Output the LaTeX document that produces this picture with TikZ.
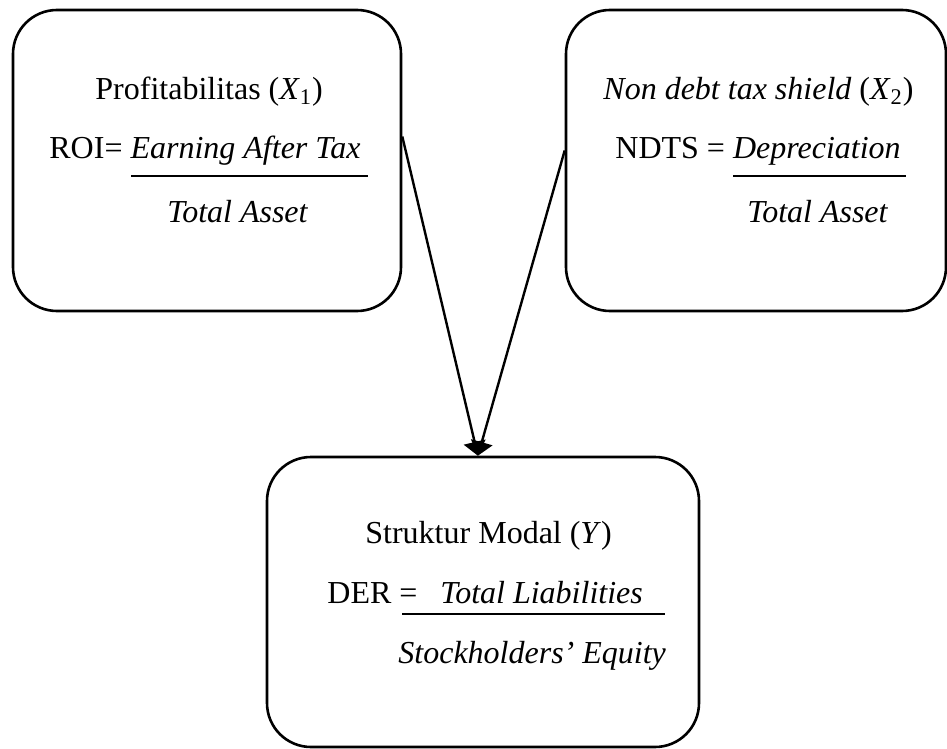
\documentclass[tikz,border=0pt]{standalone}
\usepackage{fontspec}
\setmainfont{Liberation Serif}
\usetikzlibrary{arrows.meta, positioning}

\begin{document}
\begin{tikzpicture}[x=0.5pt,y=-0.5pt,>={Triangle[length=7pt,width=11pt]},
        varbox/.style={draw,line width=1.3pt,rounded corners=22pt,inner sep=0pt},
        txt/.style={anchor=base west,inner sep=0pt,font=\fontsize{16}{19}\selectfont},
        fracline/.style={line width=0.7pt}]
    \useasboundingbox (0,0) rectangle (947,749);

    \node[varbox,minimum width=194pt,minimum height=150.5pt] (profit) at (207,160.5) {};
    \node[varbox,minimum width=190pt,minimum height=150.5pt] (ndts) at (756,160.5) {};
    \node[varbox,minimum width=216pt,minimum height=145pt] (modal) at (483,602) {};

    % Profitabilitas
    \node[txt] (profitTitle) at (95,99) {Profitabilitas (\textit{X}\textsubscript{1})};
    \node[txt] (roiNum) at (49,158) {ROI= \textit{Earning After Tax}};
    \node[txt] (roiDen) at (167,222) {\textit{Total Asset}};
    \draw[fracline] (131,176) -- (368,176);

    % Non debt tax shield
    \node[txt] (ndtsTitle) at (603,99) {\textit{Non debt tax shield} (\textit{X}\textsubscript{2})};
    \node[txt] (ndtsNum) at (615,158) {NDTS = \textit{Depreciation}};
    \node[txt] (ndtsDen) at (747,222) {\textit{Total Asset}};
    \draw[fracline] (733,176) -- (906,176);

    % Struktur Modal
    \node[txt] (modalTitle) at (365,543) {Struktur Modal (\textit{Y})};
    \node[txt] (derLabel) at (327,603) {DER =};
    \node[txt] (derNum) at (440,603) {\textit{Total Liabilities}};
    \node[txt] (derDen) at (398,663) {\textit{Stockholders’ Equity}};
    \draw[fracline] (402,614) -- (665,614);

    \draw[->,line width=1.2pt] (profit.7) -- (modal.92);
    \draw[->,line width=1.2pt] (ndts.177) -- (modal.92);
\end{tikzpicture}
\end{document}
